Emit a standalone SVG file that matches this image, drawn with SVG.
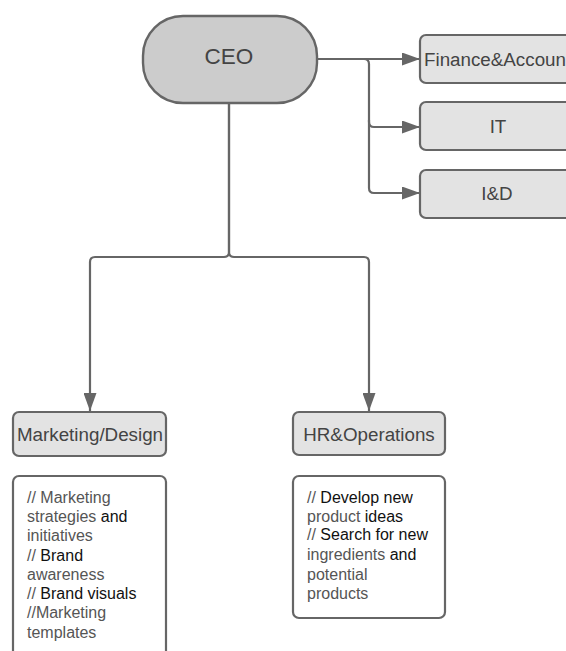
<svg xmlns="http://www.w3.org/2000/svg" width="566" height="651" viewBox="0 0 566 651">
<style>
.box{fill:#e3e3e3;stroke:#666;stroke-width:2.2}
.note{fill:#fff;stroke:#666;stroke-width:2.2}
.lbl{font-family:"Liberation Sans",Arial,sans-serif;font-size:18.8px;fill:#444}
.txt{font-family:"Liberation Sans",Arial,sans-serif;font-size:16px;fill:#555}
.k{fill:#111}
.con{fill:none;stroke:#666;stroke-width:2.2}
</style>
<defs>
<marker id="arr" markerUnits="userSpaceOnUse" markerWidth="18" markerHeight="13" refX="18" refY="6.5" orient="auto">
<path d="M0,0 L18,6.5 L0,13 z" fill="#666"/>
</marker>
</defs>
<rect width="566" height="651" fill="#fff"/>
<g id="connectors">
<path class="con" d="M229,103 V252 Q229,257 224,257 H95 Q90,257 90,262 V411" marker-end="url(#arr)"/>
<path class="con" d="M229,103 V252 Q229,257 234,257 H364 Q369,257 369,262 V411" marker-end="url(#arr)"/>
<path class="con" d="M317,59 H420" marker-end="url(#arr)"/>
<path class="con" d="M317,59 H364 Q369,59 369,64 V122 Q369,127 374,127 H420" marker-end="url(#arr)"/>
<path class="con" d="M369,120 V188 Q369,193 374,193 H420" marker-end="url(#arr)"/>
</g>
<g id="ceo">
<rect x="143" y="16" width="174" height="87" rx="40" ry="40" fill="#cccccc" stroke="#666" stroke-width="2.4"/>
<text x="229" y="64" text-anchor="middle" font-family="Liberation Sans, Arial, sans-serif" font-size="22.5" fill="#444">CEO</text>
</g>
<g id="finance">
<rect class="box" x="420" y="35" width="160" height="48" rx="6"/>
<text class="lbl" x="424" y="66">Finance&amp;Accoun</text>
</g>
<g id="it">
<rect class="box" x="420" y="102" width="160" height="48" rx="6"/>
<text class="lbl" x="498" y="133" text-anchor="middle">IT</text>
</g>
<g id="id">
<rect class="box" x="420" y="170" width="160" height="48" rx="6"/>
<text class="lbl" x="497" y="200" text-anchor="middle">I&amp;D</text>
</g>
<g id="marketing">
<rect class="box" x="13" y="412" width="153" height="44" rx="6"/>
<text class="lbl" x="90" y="441" text-anchor="middle">Marketing/Design</text>
</g>
<g id="hr">
<rect class="box" x="293" y="412" width="152" height="43" rx="6"/>
<text class="lbl" x="369" y="441" text-anchor="middle">HR&amp;Operations</text>
</g>
<g id="marketing-notes">
<rect class="note" x="13" y="476" width="153" height="190" rx="6"/>
<text class="txt" x="27" y="503">// Marketing</text>
<text class="txt" x="27" y="522">strategies <tspan class="k">and</tspan></text>
<text class="txt" x="27" y="541">initiatives</text>
<text class="txt" x="27" y="561">// <tspan class="k">Brand</tspan></text>
<text class="txt" x="27" y="580">awareness</text>
<text class="txt" x="27" y="599">// <tspan class="k">Brand visuals</tspan></text>
<text class="txt" x="27" y="618">//Marketing</text>
<text class="txt" x="27" y="638">templates</text>
</g>
<g id="hr-notes">
<rect class="note" x="293" y="476" width="152" height="142" rx="6"/>
<text class="txt" x="307" y="503">// <tspan class="k">Develop new</tspan></text>
<text class="txt" x="307" y="522">product <tspan class="k">ideas</tspan></text>
<text class="txt" x="307" y="540">// <tspan class="k">Search for new</tspan></text>
<text class="txt" x="307" y="560">ingredients <tspan class="k">and</tspan></text>
<text class="txt" x="307" y="580">potential</text>
<text class="txt" x="307" y="599">products</text>
</g>
</svg>
